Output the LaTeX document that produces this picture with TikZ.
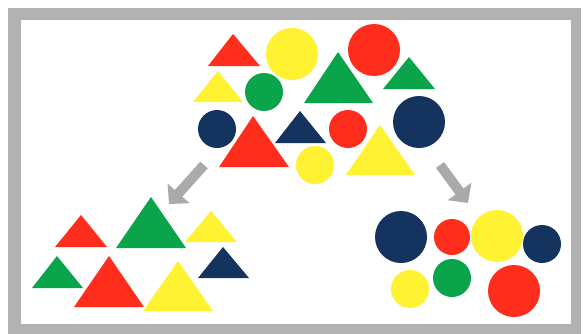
\documentclass[tikz,border=0pt]{standalone}
\usepackage{xcolor}
\definecolor{shapered}{RGB}{255,45,27}
\definecolor{shapeyellow}{RGB}{255,242,50}
\definecolor{shapegreen}{RGB}{10,165,75}
\definecolor{shapenavy}{RGB}{20,52,95}
\definecolor{framegray}{RGB}{178,178,178}
\definecolor{arrowgray}{RGB}{170,170,170}
\usepackage{tikz}
\usetikzlibrary{arrows.meta}

\begin{document}
\begin{tikzpicture}[x=0.03cm, y=-0.03cm,
    rd/.style={fill=shapered},
    yl/.style={fill=shapeyellow},
    gn/.style={fill=shapegreen},
    nv/.style={fill=shapenavy},
    blockarr/.style={draw=arrowgray, line width=0.3cm,
                     -{Triangle[width=0.86cm, length=0.43cm]}},
  ]
    \useasboundingbox (0,0) rectangle (585,333);

    % frame
    \fill[framegray, even odd rule] (8,8) rectangle (581,336)
                                    (21,20) rectangle (571,324);
    \fill[white] (21,20) rectangle (571,324);

    % mixed heap
    \fill[rd] (208,66) -- (260,66) -- (233,34) -- cycle;
    \fill[yl] (292,54) circle (26);
    \fill[rd] (374,50) circle (26);
    \fill[yl] (193,102) -- (243,102) -- (218,71) -- cycle;
    \fill[gn] (264,92) circle (19);
    \fill[gn] (304,103) -- (373,103) -- (338,52) -- cycle;
    \fill[gn] (383,89) -- (435,89) -- (409,57) -- cycle;
    \fill[nv] (217,129) circle (19);
    \fill[rd] (219,167) -- (289,167) -- (253,116) -- cycle;
    \fill[nv] (275,143) -- (326,143) -- (300,111) -- cycle;
    \fill[rd] (348,129) circle (19);
    \fill[nv] (419,122) circle (26);
    \fill[yl] (315,165) circle (19);
    \fill[yl] (346,175) -- (415,175) -- (380,125) -- cycle;

    % arrows
    \coordinate (lfrom) at (204,165);
    \coordinate (lto)   at (169,204);
    \coordinate (rfrom) at (440,165);
    \coordinate (rto)   at (468,203);
    \draw[blockarr] (lfrom) -- (lto);
    \draw[blockarr] (rfrom) -- (rto);

    % triangles
    \fill[rd] (55,247) -- (107,247) -- (81,215) -- cycle;
    \fill[gn] (116,248) -- (186,248) -- (151,197) -- cycle;
    \fill[yl] (185,242) -- (237,242) -- (211,211) -- cycle;
    \fill[gn] (32,288) -- (83,288) -- (57,256) -- cycle;
    \fill[rd] (74,307) -- (144,307) -- (109,256) -- cycle;
    \fill[yl] (143,311) -- (213,311) -- (178,261) -- cycle;
    \fill[nv] (198,278) -- (249,278) -- (223,247) -- cycle;

    % circles
    \fill[nv] (401,237) circle (26);
    \fill[rd] (452,237) circle (18);
    \fill[yl] (497,236) circle (26);
    \fill[nv] (542,244) circle (19);
    \fill[yl] (410,289) circle (19);
    \fill[gn] (452,278) circle (19);
    \fill[rd] (514,291) circle (26);
\end{tikzpicture}
\end{document}
